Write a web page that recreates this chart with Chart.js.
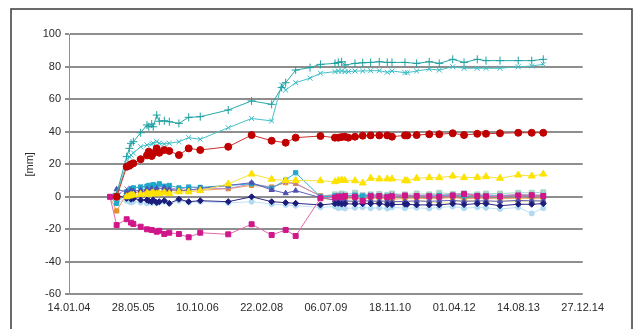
<!DOCTYPE html>
<html>
<head>
<meta charset="utf-8">
<script src="https://cdn.jsdelivr.net/npm/chart.js@4/dist/chart.umd.min.js"></script>
<style>
  html, body { margin: 0; padding: 0; background: #fff; }
  canvas { display: block; }
</style>
</head>
<body>
<canvas id="c" width="633" height="329"></canvas>
<script>
// Measurement dates shared by all gauges
const dates = [
  '2004-11-28', '2005-01-19', '2005-03-02', '2005-04-07', '2005-04-28', '2005-05-11',
  '2005-05-29', '2005-07-25', '2005-09-12', '2005-09-26', '2005-10-19', '2005-10-31',
  '2005-11-27', '2005-12-17', '2006-01-25', '2006-03-05', '2006-05-19', '2006-08-03',
  '2006-11-01', '2007-06-07', '2007-12-06', '2008-05-10', '2008-07-27', '2008-08-27',
  '2008-11-13', '2009-03-05', '2009-05-25', '2009-09-15', '2009-10-11', '2009-11-06',
  '2009-12-02', '2009-12-28', '2010-02-18', '2010-04-19', '2010-06-20', '2010-08-26',
  '2010-10-27', '2010-12-03', '2011-03-14', '2011-04-01', '2011-06-13', '2011-09-19',
  '2011-12-06', '2012-03-20', '2012-06-16', '2012-09-27', '2012-12-04', '2013-03-23',
  '2013-08-12', '2013-11-25', '2014-02-23'
];

// Axis origin and tick labels (every 500 days)
const axisStart = '2004-01-14';
const tickLabels = ['14.01.04', '28.05.05', '10.10.06', '22.02.08', '06.07.09',
                    '18.11.10', '01.04.12', '14.08.13', '27.12.14'];
const yTicks = [100, 80, 60, 40, 20, 0, -20, -40, -60];

// Displacements [mm]
const plusSeries = [null, 2, null, 24.7, 29.8, 32.9, 33.9, 39.4, 44.2, 43.1, 44.8, 43.1, 50.3, 46.5, 46.8, 46.2, 45.2, 48.9, 49.3, 53.4, 59.0, 56.9, 67.2, 70.2, 78.0, 79.5, 81.5, 82.1, 82.7, 83.1, 81.1, null, 82.1, 82.5, 82.7, 83.1, 82.7, 82.7, 82.7, null, 82.1, 83.1, 82.1, 84.6, 82.7, 84.6, 83.8, 83.8, 83.8, 83.8, 84.6];
const crossSeries = [null, 1, null, 20.6, 24.7, 25.7, 27.0, 30.8, 31.9, null, 32.5, 33.0, 33.9, 33.0, 32.5, 32.9, 33.9, 36.4, 35.4, 42.5, 48.2, 46.7, 68.8, 65.7, 70.2, 73.0, 76.0, 77.0, 77.4, 77.4, 77.0, 77.0, 77.4, 77.4, 77.6, 77.6, 76.6, 77.4, 76.4, 76.4, 77.4, 78.6, 78.0, 80.0, 79.1, 79.1, 79.1, 79.1, 80.0, 80.5, 81.5];
const redSeries = [null, 0, null, 18.5, 19.1, 20.0, 20.6, 23.1, 25.5, 27.8, 25.1, 26.8, 29.8, 27.1, 28.8, 28.2, 25.7, 29.8, 28.8, 30.8, 38.0, 34.5, null, 33.3, 36.4, null, 37.4, 36.4, 36.4, 36.8, 37.0, 36.4, 37.0, 37.6, 37.8, 37.8, 37.8, 37.0, 37.8, 37.8, 38.0, 38.5, 38.5, 39.1, 38.0, 38.8, 38.8, 39.1, 39.4, 39.4, 39.4];
const yellowSeries = [null, null, null, 0.0, 0.5, 1.0, 1.1, 1.5, 2.2, 1.5, 2.0, 2.5, 1.8, 2.2, 2.5, 2.0, 3.1, 3.0, 3.8, 7.9, 14.0, 10.8, null, 10.0, 10.0, null, 9.9, 9.3, 10.0, 10.3, 10.0, null, 9.9, 8.5, 11.4, 11.0, 11.0, 11.0, 9.9, 9.9, 11.4, 11.8, 11.8, 12.8, 11.8, 12.0, 12.4, 11.4, 13.4, 12.8, 14.0];
const magentaSeries = [0, -17.4, null, -13.8, null, -15.9, -16.7, -18.4, -20.0, null, -20.4, null, -21.5, -20.9, -22.9, -22.1, -22.9, -24.9, -22.1, -23.1, -16.9, -23.5, null, -20.4, -24.1, null, -0.9, -0.5, 0.2, -0.3, 0.5, null, 0.0, -2.5, 0.3, 0.5, -0.2, 0.3, 0.8, null, 0.5, 0.3, 0.0, 0.8, 1.7, 0.5, 0.3, 0.2, 0.8, 1.0, 0.5];
const navySeries = [null, 1.0, null, -1.0, null, -1.5, -1.0, -2.0, -2.0, -2.5, -3.0, -2.0, -3.5, -3.0, -2.4, -4.0, -1.5, -3.0, -2.4, -3.0, 0.0, -3.0, null, -3.6, -4.0, null, -5.0, -4.2, -4.0, -4.5, -4.2, null, -4.5, -4.2, -4.2, -4.2, -4.8, -4.8, -4.6, -4.6, -5.0, -5.0, -5.0, -4.2, -4.8, -4.2, -4.2, -5.5, -4.6, -4.6, -4.2];
const blueSeries = [null, 4.6, null, 3.0, null, 4.0, 3.5, 4.0, 4.5, null, 5.0, null, 5.0, null, 5.5, 4.5, 4.0, 4.0, 5.2, 7.0, 8.7, 4.2, null, 2.2, 3.8, null, -0.5, -2.0, -2.5, -2.2, -2.5, null, -2.8, -2.5, -2.5, -2.8, -2.5, -3.0, -2.8, null, -2.5, -2.8, -2.5, -2.2, -2.8, -2.5, -2.5, -2.8, -2.2, -2.5, -2.5];
const cyanSeries = [0, -4.0, null, 3.0, 4.0, 5.0, 5.5, 6.0, 6.5, 7.0, 6.0, 7.5, 6.5, 8.0, 6.5, 7.0, 5.5, 6.0, 5.8, 7.0, 8.0, 5.2, null, 10.3, 14.8, null, 0.0, 0.5, 0.2, 0.8, 0.5, null, 1.0, 0.5, 0.8, 0.5, 0.3, 0.5, 0.8, null, 0.5, 0.5, 0.8, 1.0, 0.5, 0.8, 0.5, 0.5, 0.8, 1.0, 0.8];
const lightSeries = [0, -3.0, null, -2.5, -3.0, -3.5, -2.8, -3.5, -4.0, -3.0, -3.8, -3.2, -4.0, -3.5, -3.0, -4.2, -2.5, -3.5, -3.0, -3.8, -3.0, -4.5, null, -5.0, -5.5, null, -6.5, -6.0, -7.0, -6.5, -7.2, null, -6.8, -6.5, -7.0, -6.8, -7.2, -6.5, -7.0, null, -6.8, -7.2, -6.5, -6.0, -7.0, -6.5, -6.8, -7.5, -6.5, -10.2, -7.0];
const mauveSeries = [0, 1.0, null, 5.0, null, 5.5, 5.0, 6.5, 6.0, null, 7.3, null, 6.0, null, 6.5, 5.5, 4.5, 6.0, 5.5, 5.0, 8.0, 6.0, null, 9.0, 8.0, null, 0.5, 1.0, 0.5, 1.5, 0.8, null, 1.2, 0.8, 1.5, 1.0, 0.8, 1.5, 1.0, null, 0.8, 1.2, 1.0, 1.5, 2.0, 1.0, 1.2, 0.8, 1.5, 1.0, 1.2];
const orangeSeries = [0, -8.7, null, 2.0, null, 3.0, 2.5, 3.0, 3.5, null, 4.0, null, 3.5, null, 3.0, 4.0, 3.5, 4.5, 4.0, 5.0, 7.0, 6.0, null, 8.7, 8.3, null, 0.5, -0.5, -1.0, -0.5, -1.5, null, -0.8, -1.0, -0.5, -1.2, -0.8, -1.5, -1.0, null, -0.8, -1.2, -1.0, -0.5, -1.2, -0.8, -1.0, -1.2, -0.8, -1.0, -0.8];
const seafoamSeries = [null, null, null, null, null, null, null, null, null, null, null, null, null, null, null, null, null, null, null, null, null, null, null, null, null, null, 0.5, 1.5, 1.0, 2.0, 1.5, null, 2.5, 1.0, 1.5, 1.8, 1.2, 2.0, 1.5, null, 2.0, 1.5, 2.5, 1.8, 2.2, 1.5, 2.0, 2.0, 2.5, 2.5, 2.8];
const paleSeries = [null, null, null, null, null, null, null, null, null, null, null, null, null, null, null, null, null, null, null, null, null, null, null, null, null, null, -1.0, -2.0, -3.0, -1.5, -2.5, null, -3.5, -2.0, -3.0, -3.5, -2.5, -3.0, -3.5, null, -2.5, -3.0, -4.0, -3.5, -2.0, -3.0, -3.5, -2.5, -3.0, -2.5, -3.0];

const DAY = 86400000;
const t0 = Date.parse(axisStart);
const dayOf = d => (Date.parse(d) - t0) / DAY;

function points(values) {
  const out = [];
  values.forEach((v, i) => { if (v !== null) out.push({ x: dayOf(dates[i]), y: v }); });
  return out;
}

function series(values, color, lineColor, style, radius, filled) {
  return {
    data: points(values),
    borderColor: lineColor,
    borderWidth: 1,
    pointStyle: style,
    pointRadius: radius,
    pointBorderColor: color,
    pointBackgroundColor: filled ? color : 'rgba(0,0,0,0)',
    pointBorderWidth: 1,
    tension: 0,
    fill: false
  };
}

const datasets = [
  series(redSeries, '#c00000', '#cc3030', 'circle', 3.5, true),
  series(plusSeries, '#1e9f9f', '#2aa8a8', 'cross', 4, false),
  series(crossSeries, '#35bcc6', '#44c2ca', 'crossRot', 3.5, false),
  series(yellowSeries, '#ffe300', '#f3e23a', 'triangle', 4, true),
  series(magentaSeries, '#d0168a', '#e06aaa', 'rect', 3.5, true),
  series(navySeries, '#1c1c7a', '#2a2a88', 'rectRot', 3, true),
  series(blueSeries, '#5050b0', '#6262bc', 'triangle', 3, true),
  series(cyanSeries, '#1fa8cc', '#30b0d0', 'rect', 3, true),
  series(mauveSeries, '#b070b8', '#c08ac6', 'crossRot', 3, false),
  series(orangeSeries, '#e8902e', '#eba060', 'rect', 3, true),
  series(seafoamSeries, '#a6d6c8', '#a6d6c8', 'rect', 3.5, true),
  series(paleSeries, '#f6e88a', '#f6e88a', 'rect', 3, true),
  series(lightSeries, '#aedaf2', '#bfe2f4', 'circle', 2.5, true)
];

const framePlugin = {
  id: 'frame',
  beforeDraw(chart) {
    const ctx = chart.ctx;
    ctx.save();
    ctx.fillStyle = '#ffffff';
    ctx.fillRect(0, 0, chart.width, chart.height);
    ctx.strokeStyle = '#3a3a3a';
    ctx.lineWidth = 1.5;
    ctx.strokeRect(11, 9, 621, 400);
    ctx.restore();
  }
};

const font = { family: "'Liberation Sans', Arial, sans-serif", size: 11 };

new Chart(document.getElementById('c'), {
  type: 'line',
  data: { datasets },
  plugins: [framePlugin],
  options: {
    responsive: false,
    animation: false,
    devicePixelRatio: 1,
    layout: { padding: { top: 34.3, right: 50.3, bottom: 0, left: 0 } },
    plugins: { legend: { display: false }, tooltip: { enabled: false } },
    scales: {
      x: {
        type: 'linear',
        min: 0,
        max: 4000,
        afterFit(scale) { scale.height = 34.7; },
        afterBuildTicks(scale) {
          scale.ticks = tickLabels.map((_, i) => ({ value: i * 500 }));
        },
        ticks: {
          padding: 7,
          color: '#2a2a2a',
          font,
          maxRotation: 0,
          autoSkip: false,
          callback: (v, i) => tickLabels[i]
        },
        grid: { display: false, drawTicks: false },
        border: { display: false }
      },
      y: {
        min: -60,
        max: 100,
        afterFit(scale) { scale.width = 69; },
        afterBuildTicks(scale) {
          scale.ticks = yTicks.map(v => ({ value: v }));
        },
        ticks: { padding: 4, color: '#2a2a2a', font },
        grid: { color: '#8e8e8e', lineWidth: 2, tickLength: 4, drawTicks: true },
        border: { display: true, color: '#8e8e8e', width: 1 },
        title: {
          display: true,
          text: '[mm]',
          color: '#2a2a2a',
          font,
          padding: { top: 23, bottom: 0 }
        }
      }
    }
  }
});
</script>
</body>
</html>
